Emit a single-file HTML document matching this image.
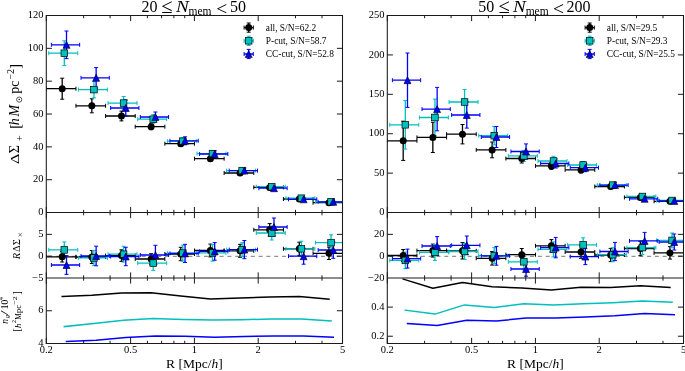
<!DOCTYPE html><html><head><meta charset="utf-8"><style>html,body{margin:0;padding:0;background:#fff;}svg{display:block;will-change:transform;}text{font-family:"Liberation Serif",serif;}</style></head><body><svg width="685" height="371" viewBox="0 0 685 371" font-family="Liberation Serif, serif"><rect width="685" height="371" fill="#fff"/><defs><clipPath id="ctl"><rect x="46.3" y="15.5" width="296.2" height="197.05"/></clipPath><clipPath id="ctr"><rect x="387.3" y="15.5" width="296.2" height="197.05"/></clipPath><clipPath id="cml"><rect x="46.3" y="212.55" width="296.2" height="65.45"/></clipPath><clipPath id="cmr"><rect x="387.3" y="212.55" width="296.2" height="65.45"/></clipPath><clipPath id="cbl"><rect x="46.3" y="278" width="296.2" height="65.5"/></clipPath><clipPath id="cbr"><rect x="387.3" y="278" width="296.2" height="65.5"/></clipPath></defs><g><path d="M46.3 256.3H342.5" stroke="#777" stroke-width="1" stroke-dasharray="4 3.8" stroke-dashoffset="6.1"/><path d="M387.3 256.3H683.5" stroke="#777" stroke-width="1" stroke-dasharray="4 3.8" stroke-dashoffset="5.4"/><g clip-path="url(#ctl)"><path d="M46.3 88.7H75.94M62.2 78.2V99.2M75.94 105.8H105.58M91.84 98.8V112.8M105.58 116H135.22M121.48 111.1V120.9M135.22 126.7H164.86M151.12 123.7V129.7M164.86 143.7H194.5M180.76 141.1V146.3M194.5 158.7H224.14M210.4 156.1V161.3M224.14 173H253.78M240.04 170.8V175.2M253.78 187.4H283.42M269.68 185.6V189.2M283.42 199H313.06M299.32 197.5V200.5M313.06 202.7H342.7M328.96 201.4V204" stroke="#000000" stroke-width="1.3" fill="none"/><path d="M46.3 86.7V90.7M75.94 86.7V90.7M60.2 78.2H64.2M60.2 99.2H64.2M75.94 103.8V107.8M105.58 103.8V107.8M89.84 98.8H93.84M89.84 112.8H93.84M105.58 114V118M135.22 114V118M119.48 111.1H123.48M119.48 120.9H123.48M135.22 124.7V128.7M164.86 124.7V128.7M149.12 123.7H153.12M149.12 129.7H153.12M164.86 141.7V145.7M194.5 141.7V145.7M178.76 141.1H182.76M178.76 146.3H182.76M194.5 156.7V160.7M224.14 156.7V160.7M208.4 156.1H212.4M208.4 161.3H212.4M224.14 171V175M253.78 171V175M238.04 170.8H242.04M238.04 175.2H242.04M253.78 185.4V189.4M283.42 185.4V189.4M267.68 185.6H271.68M267.68 189.2H271.68M283.42 197V201M313.06 197V201M297.32 197.5H301.32M297.32 200.5H301.32M313.06 200.7V204.7M342.7 200.7V204.7M326.96 201.4H330.96M326.96 204H330.96" stroke="#000000" stroke-width="1.0" fill="none"/><path d="M48.79 53.2H77.75M64.3 40.8V65.6M78.43 89.6H107.39M93.94 81.3V97.9M108.07 103.1H137.03M123.58 96.5V109.7M137.71 119.2H166.67M153.22 114.6V123.8M167.35 141.2H196.31M182.86 137.7V144.7M196.99 153.6H225.95M212.5 150.8V156.4M226.63 170.6H255.59M242.14 168.3V172.9M256.27 186.7H285.23M271.78 184.8V188.6M285.91 198.2H314.87M301.42 196.6V199.8M315.55 201.8H344.51M331.06 200.4V203.2" stroke="#00bfbf" stroke-width="1.3" fill="none"/><path d="M48.79 51.2V55.2M77.75 51.2V55.2M62.3 40.8H66.3M62.3 65.6H66.3M78.43 87.6V91.6M107.39 87.6V91.6M91.94 81.3H95.94M91.94 97.9H95.94M108.07 101.1V105.1M137.03 101.1V105.1M121.58 96.5H125.58M121.58 109.7H125.58M137.71 117.2V121.2M166.67 117.2V121.2M151.22 114.6H155.22M151.22 123.8H155.22M167.35 139.2V143.2M196.31 139.2V143.2M180.86 137.7H184.86M180.86 144.7H184.86M196.99 151.6V155.6M225.95 151.6V155.6M210.5 150.8H214.5M210.5 156.4H214.5M226.63 168.6V172.6M255.59 168.6V172.6M240.14 168.3H244.14M240.14 172.9H244.14M256.27 184.7V188.7M285.23 184.7V188.7M269.78 184.8H273.78M269.78 188.6H273.78M285.91 196.2V200.2M314.87 196.2V200.2M299.42 196.6H303.42M299.42 199.8H303.42M315.55 199.8V203.8M344.51 199.8V203.8M329.06 200.4H333.06M329.06 203.2H333.06" stroke="#00bfbf" stroke-width="1.0" fill="none"/><path d="M51.39 44.8H79.66M66.5 31V58.6M81.03 77.8H109.3M96.14 67.6V88M110.67 108H138.94M125.78 100V116M140.31 117H168.58M155.42 112V122M169.95 140.8H198.22M185.06 136.8V144.8M199.59 154H227.86M214.7 150.8V157.2M229.23 170.6H257.5M244.34 168V173.2M258.87 188.2H287.14M273.98 186.2V190.2M288.51 199.3H316.78M303.62 197.6V201M318.15 201.8H346.42M333.26 200.3V203.3" stroke="#0000ff" stroke-width="1.3" fill="none"/><path d="M51.39 42.8V46.8M79.66 42.8V46.8M64.5 31H68.5M64.5 58.6H68.5M81.03 75.8V79.8M109.3 75.8V79.8M94.14 67.6H98.14M94.14 88H98.14M110.67 106V110M138.94 106V110M123.78 100H127.78M123.78 116H127.78M140.31 115V119M168.58 115V119M153.42 112H157.42M153.42 122H157.42M169.95 138.8V142.8M198.22 138.8V142.8M183.06 136.8H187.06M183.06 144.8H187.06M199.59 152V156M227.86 152V156M212.7 150.8H216.7M212.7 157.2H216.7M229.23 168.6V172.6M257.5 168.6V172.6M242.34 168H246.34M242.34 173.2H246.34M258.87 186.2V190.2M287.14 186.2V190.2M271.98 186.2H275.98M271.98 190.2H275.98M288.51 197.3V201.3M316.78 197.3V201.3M301.62 197.6H305.62M301.62 201H305.62M318.15 199.8V203.8M346.42 199.8V203.8M331.26 200.3H335.26M331.26 203.3H335.26" stroke="#0000ff" stroke-width="1.0" fill="none"/></g><g clip-path="url(#ctl)"><circle cx="62.2" cy="88.7" r="3.5" fill="#000"/><circle cx="91.84" cy="105.8" r="3.5" fill="#000"/><circle cx="121.48" cy="116" r="3.5" fill="#000"/><circle cx="151.12" cy="126.7" r="3.5" fill="#000"/><circle cx="180.76" cy="143.7" r="3.5" fill="#000"/><circle cx="210.4" cy="158.7" r="3.5" fill="#000"/><circle cx="240.04" cy="173" r="3.5" fill="#000"/><circle cx="269.68" cy="187.4" r="3.5" fill="#000"/><circle cx="299.32" cy="199" r="3.5" fill="#000"/><circle cx="328.96" cy="202.7" r="3.5" fill="#000"/><rect x="61" y="49.9" width="6.6" height="6.6" fill="#00bfbf" stroke="#000" stroke-width="0.7"/><rect x="90.64" y="86.3" width="6.6" height="6.6" fill="#00bfbf" stroke="#000" stroke-width="0.7"/><rect x="120.28" y="99.8" width="6.6" height="6.6" fill="#00bfbf" stroke="#000" stroke-width="0.7"/><rect x="149.92" y="115.9" width="6.6" height="6.6" fill="#00bfbf" stroke="#000" stroke-width="0.7"/><rect x="179.56" y="137.9" width="6.6" height="6.6" fill="#00bfbf" stroke="#000" stroke-width="0.7"/><rect x="209.2" y="150.3" width="6.6" height="6.6" fill="#00bfbf" stroke="#000" stroke-width="0.7"/><rect x="238.84" y="167.3" width="6.6" height="6.6" fill="#00bfbf" stroke="#000" stroke-width="0.7"/><rect x="268.48" y="183.4" width="6.6" height="6.6" fill="#00bfbf" stroke="#000" stroke-width="0.7"/><rect x="298.12" y="194.9" width="6.6" height="6.6" fill="#00bfbf" stroke="#000" stroke-width="0.7"/><rect x="327.76" y="198.5" width="6.6" height="6.6" fill="#00bfbf" stroke="#000" stroke-width="0.7"/><path d="M66.5 41.3L70 48.3L63 48.3Z" fill="#0000ff" stroke="#000" stroke-width="0.6"/><path d="M96.14 74.3L99.64 81.3L92.64 81.3Z" fill="#0000ff" stroke="#000" stroke-width="0.6"/><path d="M125.78 104.5L129.28 111.5L122.28 111.5Z" fill="#0000ff" stroke="#000" stroke-width="0.6"/><path d="M155.42 113.5L158.92 120.5L151.92 120.5Z" fill="#0000ff" stroke="#000" stroke-width="0.6"/><path d="M185.06 137.3L188.56 144.3L181.56 144.3Z" fill="#0000ff" stroke="#000" stroke-width="0.6"/><path d="M214.7 150.5L218.2 157.5L211.2 157.5Z" fill="#0000ff" stroke="#000" stroke-width="0.6"/><path d="M244.34 167.1L247.84 174.1L240.84 174.1Z" fill="#0000ff" stroke="#000" stroke-width="0.6"/><path d="M273.98 184.7L277.48 191.7L270.48 191.7Z" fill="#0000ff" stroke="#000" stroke-width="0.6"/><path d="M303.62 195.8L307.12 202.8L300.12 202.8Z" fill="#0000ff" stroke="#000" stroke-width="0.6"/><path d="M333.26 198.3L336.76 205.3L329.76 205.3Z" fill="#0000ff" stroke="#000" stroke-width="0.6"/></g><g clip-path="url(#ctr)"><path d="M387.3 140.8H416.94M403.2 121.2V160.4M416.94 137.4H446.58M432.84 122.3V152.5M446.58 134.2H476.22M462.48 124.5V143.9M476.22 149.9H505.86M492.12 142V157.8M505.86 158.5H535.5M521.76 154V163M535.5 165.9H565.14M551.4 162.5V169.3M565.14 169.9H594.78M581.04 166.9V172.9M594.78 186.5H624.42M610.68 184.3V188.7M624.42 197.4H654.06M640.32 195.6V199.2M654.06 201.3H683.7M669.96 199.8V202.8" stroke="#000000" stroke-width="1.3" fill="none"/><path d="M387.3 138.8V142.8M416.94 138.8V142.8M401.2 121.2H405.2M401.2 160.4H405.2M416.94 135.4V139.4M446.58 135.4V139.4M430.84 122.3H434.84M430.84 152.5H434.84M446.58 132.2V136.2M476.22 132.2V136.2M460.48 124.5H464.48M460.48 143.9H464.48M476.22 147.9V151.9M505.86 147.9V151.9M490.12 142H494.12M490.12 157.8H494.12M505.86 156.5V160.5M535.5 156.5V160.5M519.76 154H523.76M519.76 163H523.76M535.5 163.9V167.9M565.14 163.9V167.9M549.4 162.5H553.4M549.4 169.3H553.4M565.14 167.9V171.9M594.78 167.9V171.9M579.04 166.9H583.04M579.04 172.9H583.04M594.78 184.5V188.5M624.42 184.5V188.5M608.68 184.3H612.68M608.68 188.7H612.68M624.42 195.4V199.4M654.06 195.4V199.4M638.32 195.6H642.32M638.32 199.2H642.32M654.06 199.3V203.3M683.7 199.3V203.3M667.96 199.8H671.96M667.96 202.8H671.96" stroke="#000000" stroke-width="1.0" fill="none"/><path d="M389.79 124.8H418.75M405.3 100.5V149.1M419.43 117.5H448.39M434.94 99.1V135.9M449.07 102H478.03M464.58 89.4V114.6M478.71 135.7H507.67M494.22 126.5V144.9M508.35 155.9H537.31M523.86 150.4V161.4M537.99 161H566.95M553.5 156.3V165.7M567.63 165H596.59M583.14 161.5V168.5M597.27 185.1H626.23M612.78 182.7V187.5M626.91 196.5H655.87M642.42 194.6V198.4M656.55 200.5H685.51M672.06 198.9V202.1" stroke="#00bfbf" stroke-width="1.3" fill="none"/><path d="M389.79 122.8V126.8M418.75 122.8V126.8M403.3 100.5H407.3M403.3 149.1H407.3M419.43 115.5V119.5M448.39 115.5V119.5M432.94 99.1H436.94M432.94 135.9H436.94M449.07 100V104M478.03 100V104M462.58 89.4H466.58M462.58 114.6H466.58M478.71 133.7V137.7M507.67 133.7V137.7M492.22 126.5H496.22M492.22 144.9H496.22M508.35 153.9V157.9M537.31 153.9V157.9M521.86 150.4H525.86M521.86 161.4H525.86M537.99 159V163M566.95 159V163M551.5 156.3H555.5M551.5 165.7H555.5M567.63 163V167M596.59 163V167M581.14 161.5H585.14M581.14 168.5H585.14M597.27 183.1V187.1M626.23 183.1V187.1M610.78 182.7H614.78M610.78 187.5H614.78M626.91 194.5V198.5M655.87 194.5V198.5M640.42 194.6H644.42M640.42 198.4H644.42M656.55 198.5V202.5M685.51 198.5V202.5M670.06 198.9H674.06M670.06 202.1H674.06" stroke="#00bfbf" stroke-width="1.0" fill="none"/><path d="M392.39 80.2H420.66M407.5 53V107.4M422.03 109.1H450.3M437.14 87.4V130.8M451.67 115H479.94M466.78 101.9V128.1M481.31 137H509.58M496.42 126.5V147.5M510.95 151.5H539.22M526.06 143.9V159.1M540.59 163.5H568.86M555.7 159V168M570.23 167.7H598.5M585.34 163.7V171.7M599.87 185.1H628.14M614.98 182.3V187.9M629.51 198.8H657.78M644.62 196.6V201M659.15 200.9H687.42M674.26 199.1V202.7" stroke="#0000ff" stroke-width="1.3" fill="none"/><path d="M392.39 78.2V82.2M420.66 78.2V82.2M405.5 53H409.5M405.5 107.4H409.5M422.03 107.1V111.1M450.3 107.1V111.1M435.14 87.4H439.14M435.14 130.8H439.14M451.67 113V117M479.94 113V117M464.78 101.9H468.78M464.78 128.1H468.78M481.31 135V139M509.58 135V139M494.42 126.5H498.42M494.42 147.5H498.42M510.95 149.5V153.5M539.22 149.5V153.5M524.06 143.9H528.06M524.06 159.1H528.06M540.59 161.5V165.5M568.86 161.5V165.5M553.7 159H557.7M553.7 168H557.7M570.23 165.7V169.7M598.5 165.7V169.7M583.34 163.7H587.34M583.34 171.7H587.34M599.87 183.1V187.1M628.14 183.1V187.1M612.98 182.3H616.98M612.98 187.9H616.98M629.51 196.8V200.8M657.78 196.8V200.8M642.62 196.6H646.62M642.62 201H646.62M659.15 198.9V202.9M687.42 198.9V202.9M672.26 199.1H676.26M672.26 202.7H676.26" stroke="#0000ff" stroke-width="1.0" fill="none"/></g><g clip-path="url(#ctr)"><circle cx="403.2" cy="140.8" r="3.5" fill="#000"/><circle cx="432.84" cy="137.4" r="3.5" fill="#000"/><circle cx="462.48" cy="134.2" r="3.5" fill="#000"/><circle cx="492.12" cy="149.9" r="3.5" fill="#000"/><circle cx="521.76" cy="158.5" r="3.5" fill="#000"/><circle cx="551.4" cy="165.9" r="3.5" fill="#000"/><circle cx="581.04" cy="169.9" r="3.5" fill="#000"/><circle cx="610.68" cy="186.5" r="3.5" fill="#000"/><circle cx="640.32" cy="197.4" r="3.5" fill="#000"/><circle cx="669.96" cy="201.3" r="3.5" fill="#000"/><rect x="402" y="121.5" width="6.6" height="6.6" fill="#00bfbf" stroke="#000" stroke-width="0.7"/><rect x="431.64" y="114.2" width="6.6" height="6.6" fill="#00bfbf" stroke="#000" stroke-width="0.7"/><rect x="461.28" y="98.7" width="6.6" height="6.6" fill="#00bfbf" stroke="#000" stroke-width="0.7"/><rect x="490.92" y="132.4" width="6.6" height="6.6" fill="#00bfbf" stroke="#000" stroke-width="0.7"/><rect x="520.56" y="152.6" width="6.6" height="6.6" fill="#00bfbf" stroke="#000" stroke-width="0.7"/><rect x="550.2" y="157.7" width="6.6" height="6.6" fill="#00bfbf" stroke="#000" stroke-width="0.7"/><rect x="579.84" y="161.7" width="6.6" height="6.6" fill="#00bfbf" stroke="#000" stroke-width="0.7"/><rect x="609.48" y="181.8" width="6.6" height="6.6" fill="#00bfbf" stroke="#000" stroke-width="0.7"/><rect x="639.12" y="193.2" width="6.6" height="6.6" fill="#00bfbf" stroke="#000" stroke-width="0.7"/><rect x="668.76" y="197.2" width="6.6" height="6.6" fill="#00bfbf" stroke="#000" stroke-width="0.7"/><path d="M407.5 76.7L411 83.7L404 83.7Z" fill="#0000ff" stroke="#000" stroke-width="0.6"/><path d="M437.14 105.6L440.64 112.6L433.64 112.6Z" fill="#0000ff" stroke="#000" stroke-width="0.6"/><path d="M466.78 111.5L470.28 118.5L463.28 118.5Z" fill="#0000ff" stroke="#000" stroke-width="0.6"/><path d="M496.42 133.5L499.92 140.5L492.92 140.5Z" fill="#0000ff" stroke="#000" stroke-width="0.6"/><path d="M526.06 148L529.56 155L522.56 155Z" fill="#0000ff" stroke="#000" stroke-width="0.6"/><path d="M555.7 160L559.2 167L552.2 167Z" fill="#0000ff" stroke="#000" stroke-width="0.6"/><path d="M585.34 164.2L588.84 171.2L581.84 171.2Z" fill="#0000ff" stroke="#000" stroke-width="0.6"/><path d="M614.98 181.6L618.48 188.6L611.48 188.6Z" fill="#0000ff" stroke="#000" stroke-width="0.6"/><path d="M644.62 195.3L648.12 202.3L641.12 202.3Z" fill="#0000ff" stroke="#000" stroke-width="0.6"/><path d="M674.26 197.4L677.76 204.4L670.76 204.4Z" fill="#0000ff" stroke="#000" stroke-width="0.6"/></g><g clip-path="url(#cml)"><path d="M46.3 256.8H75.94M62.2 251.6V262M75.94 257H105.58M91.84 250.5V263.5M105.58 255.6H135.22M121.48 249.8V261.4M135.22 259H164.86M151.12 253.7V264.3M164.86 254H194.5M180.76 247.3V260.7M194.5 250.5H224.14M210.4 244.1V256.9M224.14 250.8H253.78M240.04 244.3V257.3M253.78 229.8H283.42M269.68 223.6V236M283.42 248.8H313.06M299.32 242.2V255.4M313.06 253.3H342.7M328.96 247.1V259.5" stroke="#000000" stroke-width="1.3" fill="none"/><path d="M46.3 254.8V258.8M75.94 254.8V258.8M60.2 251.6H64.2M60.2 262H64.2M75.94 255V259M105.58 255V259M89.84 250.5H93.84M89.84 263.5H93.84M105.58 253.6V257.6M135.22 253.6V257.6M119.48 249.8H123.48M119.48 261.4H123.48M135.22 257V261M164.86 257V261M149.12 253.7H153.12M149.12 264.3H153.12M164.86 252V256M194.5 252V256M178.76 247.3H182.76M178.76 260.7H182.76M194.5 248.5V252.5M224.14 248.5V252.5M208.4 244.1H212.4M208.4 256.9H212.4M224.14 248.8V252.8M253.78 248.8V252.8M238.04 244.3H242.04M238.04 257.3H242.04M253.78 227.8V231.8M283.42 227.8V231.8M267.68 223.6H271.68M267.68 236H271.68M283.42 246.8V250.8M313.06 246.8V250.8M297.32 242.2H301.32M297.32 255.4H301.32M313.06 251.3V255.3M342.7 251.3V255.3M326.96 247.1H330.96M326.96 259.5H330.96" stroke="#000000" stroke-width="1.0" fill="none"/><path d="M48.79 249.9H77.75M64.3 241.9V257.9M78.43 257.9H107.39M93.94 250.4V265.4M108.07 254.2H137.03M123.58 246.3V262.1M137.71 263.1H166.67M153.22 255.6V270.6M167.35 253.1H196.31M182.86 245.1V261.1M196.99 252.9H225.95M212.5 244.7V261.1M226.63 249.7H255.59M242.14 242.7V256.7M256.27 233H285.23M271.78 226V240M285.91 248.8H314.87M301.42 241.2V256.4M315.55 242.6H344.51M331.06 234.8V250.4" stroke="#00bfbf" stroke-width="1.3" fill="none"/><path d="M48.79 247.9V251.9M77.75 247.9V251.9M62.3 241.9H66.3M62.3 257.9H66.3M78.43 255.9V259.9M107.39 255.9V259.9M91.94 250.4H95.94M91.94 265.4H95.94M108.07 252.2V256.2M137.03 252.2V256.2M121.58 246.3H125.58M121.58 262.1H125.58M137.71 261.1V265.1M166.67 261.1V265.1M151.22 255.6H155.22M151.22 270.6H155.22M167.35 251.1V255.1M196.31 251.1V255.1M180.86 245.1H184.86M180.86 261.1H184.86M196.99 250.9V254.9M225.95 250.9V254.9M210.5 244.7H214.5M210.5 261.1H214.5M226.63 247.7V251.7M255.59 247.7V251.7M240.14 242.7H244.14M240.14 256.7H244.14M256.27 231V235M285.23 231V235M269.78 226H273.78M269.78 240H273.78M285.91 246.8V250.8M314.87 246.8V250.8M299.42 241.2H303.42M299.42 256.4H303.42M315.55 240.6V244.6M344.51 240.6V244.6M329.06 234.8H333.06M329.06 250.4H333.06" stroke="#00bfbf" stroke-width="1.0" fill="none"/><path d="M51.39 265H79.66M66.5 255.6V274.4M81.03 256H109.3M96.14 246.2V265.8M110.67 256.5H138.94M125.78 247.3V265.7M140.31 255H168.58M155.42 245.3V264.7M169.95 253.4H198.22M185.06 244.3V262.5M199.59 251.4H227.86M214.7 242.6V260.2M229.23 249.6H257.5M244.34 240.5V258.7M258.87 227H287.14M273.98 218V236M288.51 256.2H316.78M303.62 248.2V264.2M318.15 250H346.42M333.26 241.7V258.3" stroke="#0000ff" stroke-width="1.3" fill="none"/><path d="M51.39 263V267M79.66 263V267M64.5 255.6H68.5M64.5 274.4H68.5M81.03 254V258M109.3 254V258M94.14 246.2H98.14M94.14 265.8H98.14M110.67 254.5V258.5M138.94 254.5V258.5M123.78 247.3H127.78M123.78 265.7H127.78M140.31 253V257M168.58 253V257M153.42 245.3H157.42M153.42 264.7H157.42M169.95 251.4V255.4M198.22 251.4V255.4M183.06 244.3H187.06M183.06 262.5H187.06M199.59 249.4V253.4M227.86 249.4V253.4M212.7 242.6H216.7M212.7 260.2H216.7M229.23 247.6V251.6M257.5 247.6V251.6M242.34 240.5H246.34M242.34 258.7H246.34M258.87 225V229M287.14 225V229M271.98 218H275.98M271.98 236H275.98M288.51 254.2V258.2M316.78 254.2V258.2M301.62 248.2H305.62M301.62 264.2H305.62M318.15 248V252M346.42 248V252M331.26 241.7H335.26M331.26 258.3H335.26" stroke="#0000ff" stroke-width="1.0" fill="none"/></g><g clip-path="url(#cml)"><circle cx="62.2" cy="256.8" r="3.5" fill="#000"/><circle cx="91.84" cy="257" r="3.5" fill="#000"/><circle cx="121.48" cy="255.6" r="3.5" fill="#000"/><circle cx="151.12" cy="259" r="3.5" fill="#000"/><circle cx="180.76" cy="254" r="3.5" fill="#000"/><circle cx="210.4" cy="250.5" r="3.5" fill="#000"/><circle cx="240.04" cy="250.8" r="3.5" fill="#000"/><circle cx="269.68" cy="229.8" r="3.5" fill="#000"/><circle cx="299.32" cy="248.8" r="3.5" fill="#000"/><circle cx="328.96" cy="253.3" r="3.5" fill="#000"/><rect x="61" y="246.6" width="6.6" height="6.6" fill="#00bfbf" stroke="#000" stroke-width="0.7"/><rect x="90.64" y="254.6" width="6.6" height="6.6" fill="#00bfbf" stroke="#000" stroke-width="0.7"/><rect x="120.28" y="250.9" width="6.6" height="6.6" fill="#00bfbf" stroke="#000" stroke-width="0.7"/><rect x="149.92" y="259.8" width="6.6" height="6.6" fill="#00bfbf" stroke="#000" stroke-width="0.7"/><rect x="179.56" y="249.8" width="6.6" height="6.6" fill="#00bfbf" stroke="#000" stroke-width="0.7"/><rect x="209.2" y="249.6" width="6.6" height="6.6" fill="#00bfbf" stroke="#000" stroke-width="0.7"/><rect x="238.84" y="246.4" width="6.6" height="6.6" fill="#00bfbf" stroke="#000" stroke-width="0.7"/><rect x="268.48" y="229.7" width="6.6" height="6.6" fill="#00bfbf" stroke="#000" stroke-width="0.7"/><rect x="298.12" y="245.5" width="6.6" height="6.6" fill="#00bfbf" stroke="#000" stroke-width="0.7"/><rect x="327.76" y="239.3" width="6.6" height="6.6" fill="#00bfbf" stroke="#000" stroke-width="0.7"/><path d="M66.5 261.5L70 268.5L63 268.5Z" fill="#0000ff" stroke="#000" stroke-width="0.6"/><path d="M96.14 252.5L99.64 259.5L92.64 259.5Z" fill="#0000ff" stroke="#000" stroke-width="0.6"/><path d="M125.78 253L129.28 260L122.28 260Z" fill="#0000ff" stroke="#000" stroke-width="0.6"/><path d="M155.42 251.5L158.92 258.5L151.92 258.5Z" fill="#0000ff" stroke="#000" stroke-width="0.6"/><path d="M185.06 249.9L188.56 256.9L181.56 256.9Z" fill="#0000ff" stroke="#000" stroke-width="0.6"/><path d="M214.7 247.9L218.2 254.9L211.2 254.9Z" fill="#0000ff" stroke="#000" stroke-width="0.6"/><path d="M244.34 246.1L247.84 253.1L240.84 253.1Z" fill="#0000ff" stroke="#000" stroke-width="0.6"/><path d="M273.98 223.5L277.48 230.5L270.48 230.5Z" fill="#0000ff" stroke="#000" stroke-width="0.6"/><path d="M303.62 252.7L307.12 259.7L300.12 259.7Z" fill="#0000ff" stroke="#000" stroke-width="0.6"/><path d="M333.26 246.5L336.76 253.5L329.76 253.5Z" fill="#0000ff" stroke="#000" stroke-width="0.6"/></g><g clip-path="url(#cmr)"><path d="M387.3 255.5H416.94M403.2 249.5V261.5M416.94 250.6H446.58M432.84 244.1V257.1M446.58 250.8H476.22M462.48 242.6V259M476.22 258.3H505.86M492.12 251.5V265.1M505.86 254.7H535.5M521.76 248.5V260.9M535.5 245.8H565.14M551.4 239.6V252M565.14 252H594.78M581.04 245.7V258.3M594.78 255H624.42M610.68 248.4V261.6M624.42 248.5H654.06M640.32 241.3V255.7M654.06 252.9H683.7M669.96 246.7V259.1" stroke="#000000" stroke-width="1.3" fill="none"/><path d="M387.3 253.5V257.5M416.94 253.5V257.5M401.2 249.5H405.2M401.2 261.5H405.2M416.94 248.6V252.6M446.58 248.6V252.6M430.84 244.1H434.84M430.84 257.1H434.84M446.58 248.8V252.8M476.22 248.8V252.8M460.48 242.6H464.48M460.48 259H464.48M476.22 256.3V260.3M505.86 256.3V260.3M490.12 251.5H494.12M490.12 265.1H494.12M505.86 252.7V256.7M535.5 252.7V256.7M519.76 248.5H523.76M519.76 260.9H523.76M535.5 243.8V247.8M565.14 243.8V247.8M549.4 239.6H553.4M549.4 252H553.4M565.14 250V254M594.78 250V254M579.04 245.7H583.04M579.04 258.3H583.04M594.78 253V257M624.42 253V257M608.68 248.4H612.68M608.68 261.6H612.68M624.42 246.5V250.5M654.06 246.5V250.5M638.32 241.3H642.32M638.32 255.7H642.32M654.06 250.9V254.9M683.7 250.9V254.9M667.96 246.7H671.96M667.96 259.1H671.96" stroke="#000000" stroke-width="1.0" fill="none"/><path d="M389.79 260.4H418.75M405.3 252.1V268.7M419.43 252.4H448.39M434.94 244.4V260.4M449.07 251.5H478.03M464.58 243.5V259.5M478.71 255.6H507.67M494.22 247.6V263.6M508.35 261.8H537.31M523.86 253.8V269.8M537.99 249.4H566.95M553.5 241.9V256.9M567.63 244.9H596.59M583.14 237.8V252M597.27 254.7H626.23M612.78 247.7V261.7M626.91 247.6H655.87M642.42 240.6V254.6M656.55 240.4H685.51M672.06 233V247.8" stroke="#00bfbf" stroke-width="1.3" fill="none"/><path d="M389.79 258.4V262.4M418.75 258.4V262.4M403.3 252.1H407.3M403.3 268.7H407.3M419.43 250.4V254.4M448.39 250.4V254.4M432.94 244.4H436.94M432.94 260.4H436.94M449.07 249.5V253.5M478.03 249.5V253.5M462.58 243.5H466.58M462.58 259.5H466.58M478.71 253.6V257.6M507.67 253.6V257.6M492.22 247.6H496.22M492.22 263.6H496.22M508.35 259.8V263.8M537.31 259.8V263.8M521.86 253.8H525.86M521.86 269.8H525.86M537.99 247.4V251.4M566.95 247.4V251.4M551.5 241.9H555.5M551.5 256.9H555.5M567.63 242.9V246.9M596.59 242.9V246.9M581.14 237.8H585.14M581.14 252H585.14M597.27 252.7V256.7M626.23 252.7V256.7M610.78 247.7H614.78M610.78 261.7H614.78M626.91 245.6V249.6M655.87 245.6V249.6M640.42 240.6H644.42M640.42 254.6H644.42M656.55 238.4V242.4M685.51 238.4V242.4M670.06 233H674.06M670.06 247.8H674.06" stroke="#00bfbf" stroke-width="1.0" fill="none"/><path d="M392.39 258.6H420.66M407.5 249.1V268.1M422.03 246H450.3M437.14 236.6V255.4M451.67 245.3H479.94M466.78 236V254.6M481.31 255.8H509.58M496.42 246.4V265.2M510.95 269H539.22M526.06 261.8V276.2M540.59 247.6H568.86M555.7 237.4V257.8M570.23 256.6H598.5M585.34 248.6V264.6M599.87 251.5H628.14M614.98 242.4V260.6M629.51 240.9H657.78M644.62 232.4V249.4M659.15 242H687.42M674.26 234V250" stroke="#0000ff" stroke-width="1.3" fill="none"/><path d="M392.39 256.6V260.6M420.66 256.6V260.6M405.5 249.1H409.5M405.5 268.1H409.5M422.03 244V248M450.3 244V248M435.14 236.6H439.14M435.14 255.4H439.14M451.67 243.3V247.3M479.94 243.3V247.3M464.78 236H468.78M464.78 254.6H468.78M481.31 253.8V257.8M509.58 253.8V257.8M494.42 246.4H498.42M494.42 265.2H498.42M510.95 267V271M539.22 267V271M524.06 261.8H528.06M524.06 276.2H528.06M540.59 245.6V249.6M568.86 245.6V249.6M553.7 237.4H557.7M553.7 257.8H557.7M570.23 254.6V258.6M598.5 254.6V258.6M583.34 248.6H587.34M583.34 264.6H587.34M599.87 249.5V253.5M628.14 249.5V253.5M612.98 242.4H616.98M612.98 260.6H616.98M629.51 238.9V242.9M657.78 238.9V242.9M642.62 232.4H646.62M642.62 249.4H646.62M659.15 240V244M687.42 240V244M672.26 234H676.26M672.26 250H676.26" stroke="#0000ff" stroke-width="1.0" fill="none"/></g><g clip-path="url(#cmr)"><circle cx="403.2" cy="255.5" r="3.5" fill="#000"/><circle cx="432.84" cy="250.6" r="3.5" fill="#000"/><circle cx="462.48" cy="250.8" r="3.5" fill="#000"/><circle cx="492.12" cy="258.3" r="3.5" fill="#000"/><circle cx="521.76" cy="254.7" r="3.5" fill="#000"/><circle cx="551.4" cy="245.8" r="3.5" fill="#000"/><circle cx="581.04" cy="252" r="3.5" fill="#000"/><circle cx="610.68" cy="255" r="3.5" fill="#000"/><circle cx="640.32" cy="248.5" r="3.5" fill="#000"/><circle cx="669.96" cy="252.9" r="3.5" fill="#000"/><rect x="402" y="257.1" width="6.6" height="6.6" fill="#00bfbf" stroke="#000" stroke-width="0.7"/><rect x="431.64" y="249.1" width="6.6" height="6.6" fill="#00bfbf" stroke="#000" stroke-width="0.7"/><rect x="461.28" y="248.2" width="6.6" height="6.6" fill="#00bfbf" stroke="#000" stroke-width="0.7"/><rect x="490.92" y="252.3" width="6.6" height="6.6" fill="#00bfbf" stroke="#000" stroke-width="0.7"/><rect x="520.56" y="258.5" width="6.6" height="6.6" fill="#00bfbf" stroke="#000" stroke-width="0.7"/><rect x="550.2" y="246.1" width="6.6" height="6.6" fill="#00bfbf" stroke="#000" stroke-width="0.7"/><rect x="579.84" y="241.6" width="6.6" height="6.6" fill="#00bfbf" stroke="#000" stroke-width="0.7"/><rect x="609.48" y="251.4" width="6.6" height="6.6" fill="#00bfbf" stroke="#000" stroke-width="0.7"/><rect x="639.12" y="244.3" width="6.6" height="6.6" fill="#00bfbf" stroke="#000" stroke-width="0.7"/><rect x="668.76" y="237.1" width="6.6" height="6.6" fill="#00bfbf" stroke="#000" stroke-width="0.7"/><path d="M407.5 255.1L411 262.1L404 262.1Z" fill="#0000ff" stroke="#000" stroke-width="0.6"/><path d="M437.14 242.5L440.64 249.5L433.64 249.5Z" fill="#0000ff" stroke="#000" stroke-width="0.6"/><path d="M466.78 241.8L470.28 248.8L463.28 248.8Z" fill="#0000ff" stroke="#000" stroke-width="0.6"/><path d="M496.42 252.3L499.92 259.3L492.92 259.3Z" fill="#0000ff" stroke="#000" stroke-width="0.6"/><path d="M526.06 265.5L529.56 272.5L522.56 272.5Z" fill="#0000ff" stroke="#000" stroke-width="0.6"/><path d="M555.7 244.1L559.2 251.1L552.2 251.1Z" fill="#0000ff" stroke="#000" stroke-width="0.6"/><path d="M585.34 253.1L588.84 260.1L581.84 260.1Z" fill="#0000ff" stroke="#000" stroke-width="0.6"/><path d="M614.98 248L618.48 255L611.48 255Z" fill="#0000ff" stroke="#000" stroke-width="0.6"/><path d="M644.62 237.4L648.12 244.4L641.12 244.4Z" fill="#0000ff" stroke="#000" stroke-width="0.6"/><path d="M674.26 238.5L677.76 245.5L670.76 245.5Z" fill="#0000ff" stroke="#000" stroke-width="0.6"/></g><g clip-path="url(#cbl)"><polyline points="62.2,296.5 91.84,295.2 121.48,293 151.12,292.8 180.76,295.9 210.4,299.1 240.04,298 269.68,296.9 299.32,296.5 328.96,299.1" fill="none" stroke="#000000" stroke-width="1.5" stroke-linejoin="round" stroke-linecap="square"/><polyline points="64.3,326.6 93.94,323.4 123.58,320.3 153.22,318.6 182.86,319.4 212.5,320.1 242.14,319.7 271.78,319 301.42,319 331.06,321" fill="none" stroke="#00bfbf" stroke-width="1.5" stroke-linejoin="round" stroke-linecap="square"/><polyline points="66.5,341.5 96.14,340.2 125.78,337.6 155.42,335.9 185.06,336.3 214.7,337.2 244.34,336.5 273.98,335.9 303.62,335.9 333.26,337.2" fill="none" stroke="#0000ff" stroke-width="1.5" stroke-linejoin="round" stroke-linecap="square"/></g><g clip-path="url(#cbr)"><polyline points="403.2,279.1 432.84,288.3 462.48,282.4 492.12,286.8 521.76,288 551.4,290 581.04,287.2 610.68,287.4 640.32,285.7 669.96,287.4" fill="none" stroke="#000000" stroke-width="1.5" stroke-linejoin="round" stroke-linecap="square"/><polyline points="405.3,310.2 434.94,314.1 464.58,304.9 494.22,307.6 523.86,303.8 553.5,304.9 583.14,303.8 612.78,302.7 642.42,301 672.06,302.1" fill="none" stroke="#00bfbf" stroke-width="1.5" stroke-linejoin="round" stroke-linecap="square"/><polyline points="407.5,323.5 437.14,325.5 466.78,320.3 496.42,321.1 526.06,317.9 555.7,317.9 585.34,317 614.98,315.7 644.62,313.5 674.26,314.6" fill="none" stroke="#0000ff" stroke-width="1.5" stroke-linejoin="round" stroke-linecap="square"/></g><path d="M46.3 15.5v5.6M46.3 212.55v-5.6M130.62 15.5v5.6M130.62 212.55v-5.6M194.41 15.5v5.6M194.41 212.55v-5.6M258.2 15.5v5.6M258.2 212.55v-5.6M342.52 15.5v5.6M342.52 212.55v-5.6M83.61 15.5v2.7M83.61 212.55v-2.7M110.09 15.5v2.7M110.09 212.55v-2.7M147.4 15.5v2.7M147.4 212.55v-2.7M161.59 15.5v2.7M161.59 212.55v-2.7M173.88 15.5v2.7M173.88 212.55v-2.7M184.72 15.5v2.7M184.72 212.55v-2.7M295.51 15.5v2.7M295.51 212.55v-2.7M321.99 15.5v2.7M321.99 212.55v-2.7M46.3 212.55v5.6M46.3 278v-5.6M130.62 212.55v5.6M130.62 278v-5.6M194.41 212.55v5.6M194.41 278v-5.6M258.2 212.55v5.6M258.2 278v-5.6M342.52 212.55v5.6M342.52 278v-5.6M83.61 212.55v2.7M83.61 278v-2.7M110.09 212.55v2.7M110.09 278v-2.7M147.4 212.55v2.7M147.4 278v-2.7M161.59 212.55v2.7M161.59 278v-2.7M173.88 212.55v2.7M173.88 278v-2.7M184.72 212.55v2.7M184.72 278v-2.7M295.51 212.55v2.7M295.51 278v-2.7M321.99 212.55v2.7M321.99 278v-2.7M46.3 278v5.6M46.3 343.5v-5.6M130.62 278v5.6M130.62 343.5v-5.6M194.41 278v5.6M194.41 343.5v-5.6M258.2 278v5.6M258.2 343.5v-5.6M342.52 278v5.6M342.52 343.5v-5.6M83.61 278v2.7M83.61 343.5v-2.7M110.09 278v2.7M110.09 343.5v-2.7M147.4 278v2.7M147.4 343.5v-2.7M161.59 278v2.7M161.59 343.5v-2.7M173.88 278v2.7M173.88 343.5v-2.7M184.72 278v2.7M184.72 343.5v-2.7M295.51 278v2.7M295.51 343.5v-2.7M321.99 278v2.7M321.99 343.5v-2.7M387.3 15.5v5.6M387.3 212.55v-5.6M471.62 15.5v5.6M471.62 212.55v-5.6M535.41 15.5v5.6M535.41 212.55v-5.6M599.2 15.5v5.6M599.2 212.55v-5.6M683.52 15.5v5.6M683.52 212.55v-5.6M424.61 15.5v2.7M424.61 212.55v-2.7M451.09 15.5v2.7M451.09 212.55v-2.7M488.4 15.5v2.7M488.4 212.55v-2.7M502.59 15.5v2.7M502.59 212.55v-2.7M514.88 15.5v2.7M514.88 212.55v-2.7M525.72 15.5v2.7M525.72 212.55v-2.7M636.51 15.5v2.7M636.51 212.55v-2.7M662.99 15.5v2.7M662.99 212.55v-2.7M387.3 212.55v5.6M387.3 278v-5.6M471.62 212.55v5.6M471.62 278v-5.6M535.41 212.55v5.6M535.41 278v-5.6M599.2 212.55v5.6M599.2 278v-5.6M683.52 212.55v5.6M683.52 278v-5.6M424.61 212.55v2.7M424.61 278v-2.7M451.09 212.55v2.7M451.09 278v-2.7M488.4 212.55v2.7M488.4 278v-2.7M502.59 212.55v2.7M502.59 278v-2.7M514.88 212.55v2.7M514.88 278v-2.7M525.72 212.55v2.7M525.72 278v-2.7M636.51 212.55v2.7M636.51 278v-2.7M662.99 212.55v2.7M662.99 278v-2.7M387.3 278v5.6M387.3 343.5v-5.6M471.62 278v5.6M471.62 343.5v-5.6M535.41 278v5.6M535.41 343.5v-5.6M599.2 278v5.6M599.2 343.5v-5.6M683.52 278v5.6M683.52 343.5v-5.6M424.61 278v2.7M424.61 343.5v-2.7M451.09 278v2.7M451.09 343.5v-2.7M488.4 278v2.7M488.4 343.5v-2.7M502.59 278v2.7M502.59 343.5v-2.7M514.88 278v2.7M514.88 343.5v-2.7M525.72 278v2.7M525.72 343.5v-2.7M636.51 278v2.7M636.51 343.5v-2.7M662.99 278v2.7M662.99 343.5v-2.7M46.3 179.71h5.6M342.5 179.71h-5.6M46.3 146.87h5.6M342.5 146.87h-5.6M46.3 114.03h5.6M342.5 114.03h-5.6M46.3 81.18h5.6M342.5 81.18h-5.6M46.3 48.34h5.6M342.5 48.34h-5.6M387.3 173.14h5.6M683.5 173.14h-5.6M387.3 133.73h5.6M683.5 133.73h-5.6M387.3 94.32h5.6M683.5 94.32h-5.6M387.3 54.91h5.6M683.5 54.91h-5.6M46.3 256.18h5.6M342.5 256.18h-5.6M46.3 234.37h5.6M342.5 234.37h-5.6M387.3 256.18h5.6M683.5 256.18h-5.6M387.3 234.37h5.6M683.5 234.37h-5.6M46.3 310.75h5.6M342.5 310.75h-5.6M387.3 336.22h5.6M683.5 336.22h-5.6M387.3 307.11h5.6M683.5 307.11h-5.6" stroke="#1a1a1a" stroke-width="1.0" fill="none"/><path d="M46.3 15.5V343.5M342.5 15.5V343.5M46.3 15.5H342.5M46.3 212.55H342.5M46.3 278H342.5M46.3 343.5H342.5M387.3 15.5V343.5M683.5 15.5V343.5M387.3 15.5H683.5M387.3 212.55H683.5M387.3 278H683.5M387.3 343.5H683.5" stroke="#1a1a1a" stroke-width="1.05" fill="none" stroke-linecap="square"/><text x="43.4" y="215.25" font-size="10.5" text-anchor="end" >0</text><text x="43.4" y="182.41" font-size="10.5" text-anchor="end" >20</text><text x="43.4" y="149.57" font-size="10.5" text-anchor="end" >40</text><text x="43.4" y="116.73" font-size="10.5" text-anchor="end" >60</text><text x="43.4" y="83.88" font-size="10.5" text-anchor="end" >80</text><text x="43.4" y="51.04" font-size="10.5" text-anchor="end" >100</text><text x="43.4" y="18.2" font-size="10.5" text-anchor="end" >120</text><text x="384.4" y="215.25" font-size="10.5" text-anchor="end" >0</text><text x="384.4" y="175.84" font-size="10.5" text-anchor="end" >50</text><text x="384.4" y="136.43" font-size="10.5" text-anchor="end" >100</text><text x="384.4" y="97.02" font-size="10.5" text-anchor="end" >150</text><text x="384.4" y="57.61" font-size="10.5" text-anchor="end" >200</text><text x="384.4" y="18.2" font-size="10.5" text-anchor="end" >250</text><text x="43.4" y="237.07" font-size="10.5" text-anchor="end" >5</text><text x="43.4" y="258.88" font-size="10.5" text-anchor="end" >0</text><text x="43.4" y="280.7" font-size="10.5" text-anchor="end" >−5</text><text x="384.4" y="237.07" font-size="10.5" text-anchor="end" >20</text><text x="384.4" y="258.88" font-size="10.5" text-anchor="end" >0</text><text x="384.4" y="280.7" font-size="10.5" text-anchor="end" >−20</text><text x="43.4" y="313.45" font-size="10.5" text-anchor="end" >6</text><text x="43.4" y="346.2" font-size="10.5" text-anchor="end" >4</text><text x="384.4" y="309.81" font-size="10.5" text-anchor="end" >0.4</text><text x="384.4" y="338.92" font-size="10.5" text-anchor="end" >0.2</text><text x="46.3" y="353.2" font-size="10.5" text-anchor="middle" >0.2</text><text x="130.62" y="353.2" font-size="10.5" text-anchor="middle" >0.5</text><text x="194.41" y="353.2" font-size="10.5" text-anchor="middle" >1</text><text x="258.2" y="353.2" font-size="10.5" text-anchor="middle" >2</text><text x="342.52" y="353.2" font-size="10.5" text-anchor="middle" >5</text><text x="194.4" y="368" font-size="13.5" text-anchor="middle" >R [Mpc/<tspan font-style="italic">h</tspan>]</text><text x="387.3" y="353.2" font-size="10.5" text-anchor="middle" >0.2</text><text x="471.62" y="353.2" font-size="10.5" text-anchor="middle" >0.5</text><text x="535.41" y="353.2" font-size="10.5" text-anchor="middle" >1</text><text x="599.2" y="353.2" font-size="10.5" text-anchor="middle" >2</text><text x="683.52" y="353.2" font-size="10.5" text-anchor="middle" >5</text><text x="535.4" y="368" font-size="13.5" text-anchor="middle" >R [Mpc/<tspan font-style="italic">h</tspan>]</text><text transform="translate(149.6,12)" font-size="16" text-anchor="middle">20</text><text transform="translate(166.95,13.4)" font-size="20.5" text-anchor="middle">≤</text><text transform="translate(182.4,12) scale(1.2,1)" font-size="16" text-anchor="middle" font-style="italic">N</text><text transform="translate(200.05,14.5)" font-size="11.5" text-anchor="middle">mem</text><text transform="translate(221.75,14.6)" font-size="19.5" text-anchor="middle">&lt;</text><text transform="translate(238,12)" font-size="16" text-anchor="middle">50</text><text transform="translate(486.3,12)" font-size="16" text-anchor="middle">50</text><text transform="translate(504.05,13.4)" font-size="20.5" text-anchor="middle">≤</text><text transform="translate(519.5,12) scale(1.2,1)" font-size="16" text-anchor="middle" font-style="italic">N</text><text transform="translate(537.15,14.5)" font-size="11.5" text-anchor="middle">mem</text><text transform="translate(558.55,14.6)" font-size="19.5" text-anchor="middle">&lt;</text><text transform="translate(578.5,12)" font-size="16" text-anchor="middle">200</text><g transform="translate(19.3,164) rotate(-90)"><text transform="translate(5.2,0) scale(1.2,1)" font-size="13.5" text-anchor="middle">Δ</text><text transform="translate(14.95,0)" font-size="14" text-anchor="middle">Σ</text><text transform="translate(25.8,3.4)" font-size="10" text-anchor="middle">+</text><text transform="translate(37.7,0.3)" font-size="14.5" text-anchor="middle">[</text><text transform="translate(42.3,0)" font-size="14" text-anchor="middle" font-style="italic">h</text><text transform="translate(53.35,0)" font-size="14" text-anchor="middle" font-style="italic">M</text><text transform="translate(76.95,0)" font-size="14" text-anchor="middle">pc</text><text transform="translate(89.7,-5.1)" font-size="10" text-anchor="middle">−2</text><text transform="translate(97.65,0.3)" font-size="14.5" text-anchor="middle">]</text></g><circle cx="19.2" cy="99.6" r="2.6" fill="none" stroke="#222" stroke-width="0.75"/><circle cx="19.2" cy="99.6" r="0.75" fill="#111"/><g transform="translate(20.1,259.5) rotate(-90)"><text transform="translate(3.55,0)" font-size="10.5" text-anchor="middle" font-style="italic">R</text><text transform="translate(10.85,0)" font-size="10.5" text-anchor="middle">Δ</text><text transform="translate(17.4,0)" font-size="10.5" text-anchor="middle">Σ</text><text transform="translate(24.7,3)" font-size="9" text-anchor="middle">×</text></g><g transform="translate(7.6,324) rotate(-90)"><text transform="translate(2.7,0)" font-size="9.5" text-anchor="middle" font-style="italic">n</text><text transform="translate(7.5,1.2)" font-size="7" text-anchor="middle" font-style="italic">g</text><text transform="translate(11.3,0.4) scale(1.6,1)" font-size="11" text-anchor="middle">/</text><text transform="translate(19.5,0)" font-size="9.5" text-anchor="middle">10</text><text transform="translate(25.4,-4.5)" font-size="6.5" text-anchor="middle">4</text></g><g transform="translate(21.2,330.8) rotate(-90)"><text transform="translate(1,-0.8)" font-size="10.5" text-anchor="middle">[</text><text transform="translate(4.95,0)" font-size="9" text-anchor="middle" font-style="italic">h</text><text transform="translate(9.2,-5)" font-size="6" text-anchor="middle">2</text><text transform="translate(14.3,0) scale(0.88,1)" font-size="8.5" text-anchor="middle">M</text><text transform="translate(21.7,0)" font-size="8.5" text-anchor="middle">pc</text><text transform="translate(30.4,-4.4) scale(1.15,1)" font-size="7" text-anchor="middle">−2</text><text transform="translate(37.85,-0.8)" font-size="10.5" text-anchor="middle">]</text></g><path d="M244.1 27.6h9.2M248.7 23v9.2" stroke="#000000" stroke-width="1.3" fill="none"/><path d="M244.1 25.6v4M253.3 25.6v4M246.7 23h4M246.7 32.2h4" stroke="#000000" stroke-width="1.0" fill="none"/><circle cx="248.7" cy="27.6" r="3.5" fill="#000"/><text x="265.8" y="30.9" font-size="9.4" text-anchor="start" >all, S/N=62.2</text><path d="M244.1 40.8h9.2M248.7 36.2v9.2" stroke="#00bfbf" stroke-width="1.3" fill="none"/><path d="M244.1 38.8v4M253.3 38.8v4M246.7 36.2h4M246.7 45.4h4" stroke="#00bfbf" stroke-width="1.0" fill="none"/><rect x="245.4" y="37.5" width="6.6" height="6.6" fill="#00bfbf" stroke="#000" stroke-width="0.7"/><text x="265.8" y="44.1" font-size="9.4" text-anchor="start" >P-cut, S/N=58.7</text><path d="M244.1 54h9.2M248.7 49.4v9.2" stroke="#0000ff" stroke-width="1.3" fill="none"/><path d="M244.1 52v4M253.3 52v4M246.7 49.4h4M246.7 58.6h4" stroke="#0000ff" stroke-width="1.0" fill="none"/><path d="M248.7 50.5L252.2 57.5L245.2 57.5Z" fill="#0000ff" stroke="#000" stroke-width="0.6"/><text x="265.8" y="57.3" font-size="9.4" text-anchor="start" >CC-cut, S/N=52.8</text><path d="M585.1 27.6h9.2M589.7 23v9.2" stroke="#000000" stroke-width="1.3" fill="none"/><path d="M585.1 25.6v4M594.3 25.6v4M587.7 23h4M587.7 32.2h4" stroke="#000000" stroke-width="1.0" fill="none"/><circle cx="589.7" cy="27.6" r="3.5" fill="#000"/><text x="606.8" y="30.9" font-size="9.4" text-anchor="start" >all, S/N=29.5</text><path d="M585.1 40.8h9.2M589.7 36.2v9.2" stroke="#00bfbf" stroke-width="1.3" fill="none"/><path d="M585.1 38.8v4M594.3 38.8v4M587.7 36.2h4M587.7 45.4h4" stroke="#00bfbf" stroke-width="1.0" fill="none"/><rect x="586.4" y="37.5" width="6.6" height="6.6" fill="#00bfbf" stroke="#000" stroke-width="0.7"/><text x="606.8" y="44.1" font-size="9.4" text-anchor="start" >P-cut, S/N=29.3</text><path d="M585.1 54h9.2M589.7 49.4v9.2" stroke="#0000ff" stroke-width="1.3" fill="none"/><path d="M585.1 52v4M594.3 52v4M587.7 49.4h4M587.7 58.6h4" stroke="#0000ff" stroke-width="1.0" fill="none"/><path d="M589.7 50.5L593.2 57.5L586.2 57.5Z" fill="#0000ff" stroke="#000" stroke-width="0.6"/><text x="606.8" y="57.3" font-size="9.4" text-anchor="start" >CC-cut, S/N=25.5</text></g></svg></body></html>
